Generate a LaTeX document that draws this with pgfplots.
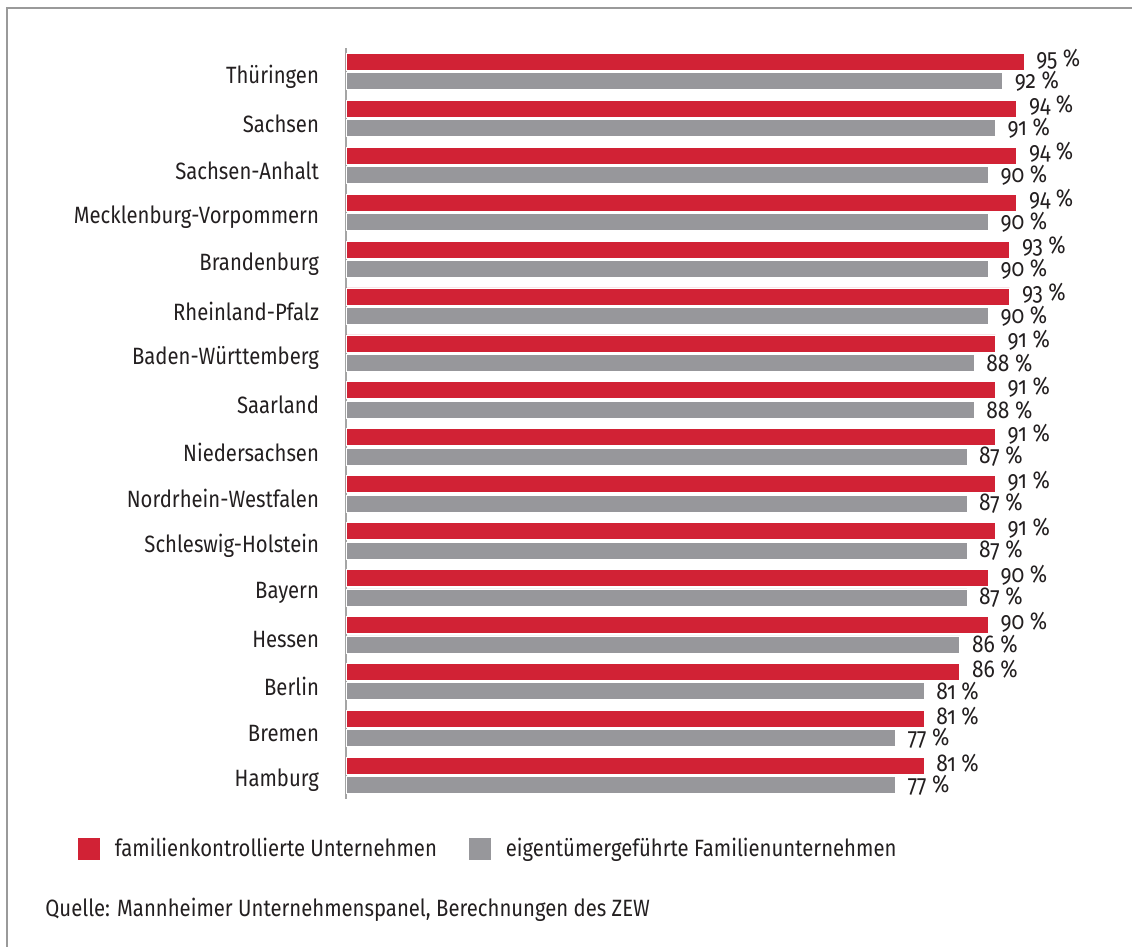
\documentclass[border=0pt]{standalone}
\usepackage{fontspec}
\setmainfont{Fira Sans}[FakeStretch=0.86]
\newfontfamily\numfont{Fira Sans}[FakeStretch=0.86, RawFeature=+onum]
\usepackage{pgfplots}
\pgfplotsset{compat=1.18}
\definecolor{zred}{HTML}{D12235}
\definecolor{zgray}{HTML}{97979B}
\definecolor{ztext}{HTML}{231F20}
\definecolor{zframe}{HTML}{9A9A9A}
\definecolor{zaxis}{HTML}{A5A5A5}
\newcommand{\zfont}{\fontsize{11.8pt}{14pt}\selectfont}
\newcommand{\nfont}{\numfont\fontsize{12.2pt}{14pt}\selectfont}
\begin{document}
\begin{tikzpicture}
\useasboundingbox (0pt,0pt) rectangle (566pt,-473.5pt);
\draw[zframe, line width=0.6pt] (3.5pt,-473.5pt) -- (3.5pt,-4pt) -- (566pt,-4pt);
\begin{axis}[
  at={(173pt,-24pt)}, anchor=north west,
  scale only axis, width=356.85pt, height=375.5pt,
  xmin=0, xmax=100, ymin=-0.5, ymax=15.5, y dir=reverse,
  axis x line=none, axis y line*=left,
  y axis line style={draw=zaxis, line width=1pt},
  ytick={0,...,15},
  yticklabels={Thüringen,Sachsen,Sachsen-Anhalt,Mecklenburg-Vorpommern,Brandenburg,Rheinland-Pfalz,Baden-Württemberg,Saarland,Niedersachsen,Nordrhein-Westfalen,Schleswig-Holstein,Bayern,Hessen,Berlin,Bremen,Hamburg},
  major tick length=0pt,
  yticklabel style={font=\zfont, text=ztext, xshift=-10pt, yshift=-2.5pt},
  /pgf/number format/assume math mode=true,
  xbar, bar width=8.5pt,
  nodes near coords={\pgfmathprintnumber{\pgfplotspointmeta} \%},
  every node near coord/.append style={font=\nfont, text=ztext, anchor=west, xshift=2.6pt},
  legend columns=2,
  legend style={draw=none, fill=none, inner sep=0pt, outer sep=0pt,
    at={(-0.3755,-0.0666)}, anchor=west, font=\zfont, text=ztext,
    /tikz/every odd column/.append style={column sep=5.5pt},
    /tikz/every even column/.append style={column sep=14pt}},
  legend image code/.code={\fill[#1,draw=none] (0pt,-5.5pt) rectangle (11pt,5.5pt);},
  clip=false,
]
\addplot[fill=zred, draw=white, line width=0.4pt, bar shift=4.85pt,
  every node near coord/.append style={yshift=1.5pt}] coordinates {
(95,0) (94,1) (94,2) (94,3) (93,4) (93,5) (91,6) (91,7)
(91,8) (91,9) (91,10) (90,11) (90,12) (86,13) (81,14) (81,15)};
\addlegendentry{familienkontrollierte Unternehmen}
\addplot[fill=zgray, draw=white, line width=0.4pt, bar shift=-4.85pt] coordinates {
(92,0) (91,1) (90,2) (90,3) (90,4) (90,5) (88,6) (88,7)
(87,8) (87,9) (87,10) (87,11) (86,12) (81,13) (77,14) (77,15)};
\addlegendentry{eigentümergeführte Familienunternehmen}
\node[anchor=west, font=\zfont, text=ztext, inner sep=0pt] at (axis description cs:-0.4217,-0.1478)
  {Quelle: Mannheimer Unternehmenspanel, Berechnungen des ZEW};
\end{axis}
\end{tikzpicture}
\end{document}
